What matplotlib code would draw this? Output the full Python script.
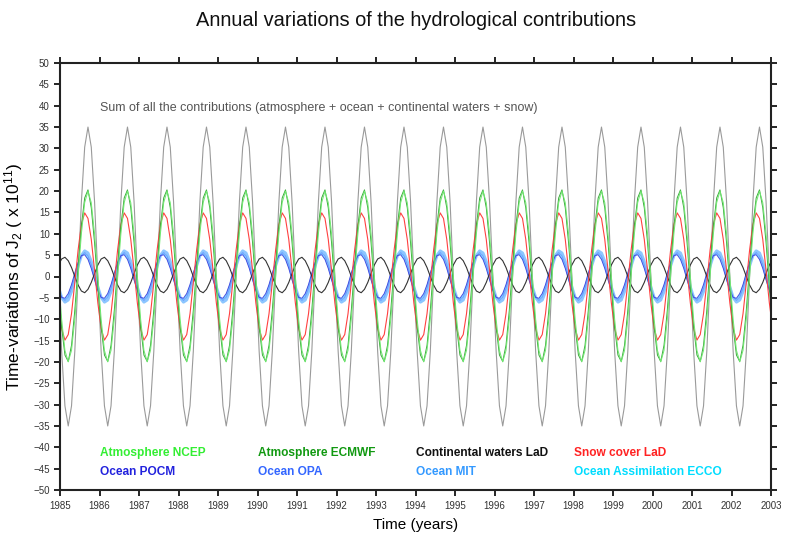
import numpy as np
import matplotlib
matplotlib.use("Agg")
import matplotlib.pyplot as plt

plt.rcParams["font.family"] = ["Liberation Sans", "DejaVu Sans"]
plt.rcParams["mathtext.fontset"] = "custom"
plt.rcParams["mathtext.rm"] = "Liberation Sans"
plt.rcParams["mathtext.it"] = "Liberation Sans"

# one annual cycle, mid-month values, repeated each year
years = list(range(1985, 2003))
sum_all = [-17.5, -30.3, -35.0, -30.3, -17.5, 0.0, 17.5, 30.3, 35.0, 30.3, 17.5, 0.0]
atm_ncep = [-10.0, -17.3, -20.0, -17.3, -10.0, 0.0, 10.0, 17.3, 20.0, 17.3, 10.0, 0.0]
atm_ecmwf = [-11.9, -18.4, -19.9, -16.1, -7.9, 2.3, 11.9, 18.4, 20.3, 16.1, 7.9, -2.3]
cont_lad = [4.1, 4.5, 3.7, 2.1, 0.0, -2.0, -3.4, -3.8, -3.0, -1.4, 0.7, 2.7]
snow_lad = [-12.2, -14.9, -13.6, -8.7, -1.4, 6.2, 12.2, 14.9, 13.6, 8.7, 1.4, -6.2]
ocean_pocm = [-4.9, -5.1, -4.0, -1.9, 0.8, 3.3, 4.9, 5.1, 4.0, 1.9, -0.8, -3.3]
ocean_opa = [-4.8, -5.6, -4.8, -2.8, 0.0, 2.8, 4.8, 5.6, 4.8, 2.8, 0.0, -2.8]
ocean_mit = [-4.9, -6.0, -5.5, -3.5, -0.6, 2.5, 4.9, 6.0, 5.5, 3.5, 0.6, -2.5]
ocean_ecco = [-4.9, -5.4, -4.4, -2.2, 0.5, 3.1, 4.9, 5.4, 4.4, 2.2, -0.5, -3.1]

series = [
    ("Ocean MIT", ocean_mit, "#8cc6ff", 2.2),
    ("Ocean Assimilation ECCO", ocean_ecco, "#66e6ff", 0.8),
    ("Ocean OPA", ocean_opa, "#6f9bff", 0.7),
    ("Ocean POCM", ocean_pocm, "#4848e0", 0.7),
    ("Continental waters LaD", cont_lad, "#333333", 0.8),
    ("Snow cover LaD", snow_lad, "#ff4040", 0.8),
    ("Atmosphere ECMWF", atm_ecmwf, "#3aa83a", 0.7),
    ("Atmosphere NCEP", atm_ncep, "#6fe86f", 0.7),
]

# time axis: mid-month points, one extra month on each side (clipped by xlim)
t = np.array([y + (m + 0.5) / 12 for y in [1984] + years + [2003] for m in range(12)])


def tile(cycle):
    return np.tile(cycle, len(years) + 2)


fig = plt.figure(figsize=(7.87, 5.33), dpi=100)
ax = fig.add_axes([60 / 787, 1 - 490 / 533, 711 / 787, 427 / 533])

ax.plot(t, tile(sum_all), color="#9a9a9a", linewidth=0.8)
for name, vals, col, lw in series:
    ax.plot(t, tile(vals), color=col, linewidth=lw)

ax.set_xlim(1985, 2003)
ax.set_ylim(-50, 50)
ax.set_xticks(range(1985, 2004))
ax.set_yticks(range(-50, 51, 5))
ax.tick_params(axis="both", direction="out", length=4, width=1.2,
               labelsize=7, labelcolor="#333333", top=True, right=True)
ax.tick_params(axis="x", pad=4)
for s in ax.spines.values():
    s.set_linewidth(1.5)
    s.set_color("#222222")

ax.text(1986.0, 39.5, "Sum of all the contributions (atmosphere + ocean + continental waters + snow)",
        fontsize=9.0, color="#555555", va="center")

legend_row1 = [("Atmosphere NCEP", "#33ee33"), ("Atmosphere ECMWF", "#119911"),
               ("Continental waters LaD", "#111111"), ("Snow cover LaD", "#ff2222")]
legend_row2 = [("Ocean POCM", "#2222dd"), ("Ocean OPA", "#3366ff"),
               ("Ocean MIT", "#3399ff"), ("Ocean Assimilation ECCO", "#00ddff")]
legend_x = [1986.0, 1990.0, 1994.0, 1998.0]
for x, (lab, col) in zip(legend_x, legend_row1):
    ax.text(x, -41.3, lab, color=col, fontsize=8.6, fontweight="bold", va="center")
for x, (lab, col) in zip(legend_x, legend_row2):
    ax.text(x, -45.9, lab, color=col, fontsize=8.6, fontweight="bold", va="center")

fig.text(416 / 787, 1 - 20 / 533, "Annual variations of the hydrological contributions",
         ha="center", va="center", fontsize=14.4, color="#111111")
ax.set_xlabel("Time (years)", fontsize=11, labelpad=5)
ax.set_ylabel("Time-variations of J$_2$ ( x 10$^{11}$)", fontsize=12.5, labelpad=6)

fig.savefig("out.png", dpi=100)
